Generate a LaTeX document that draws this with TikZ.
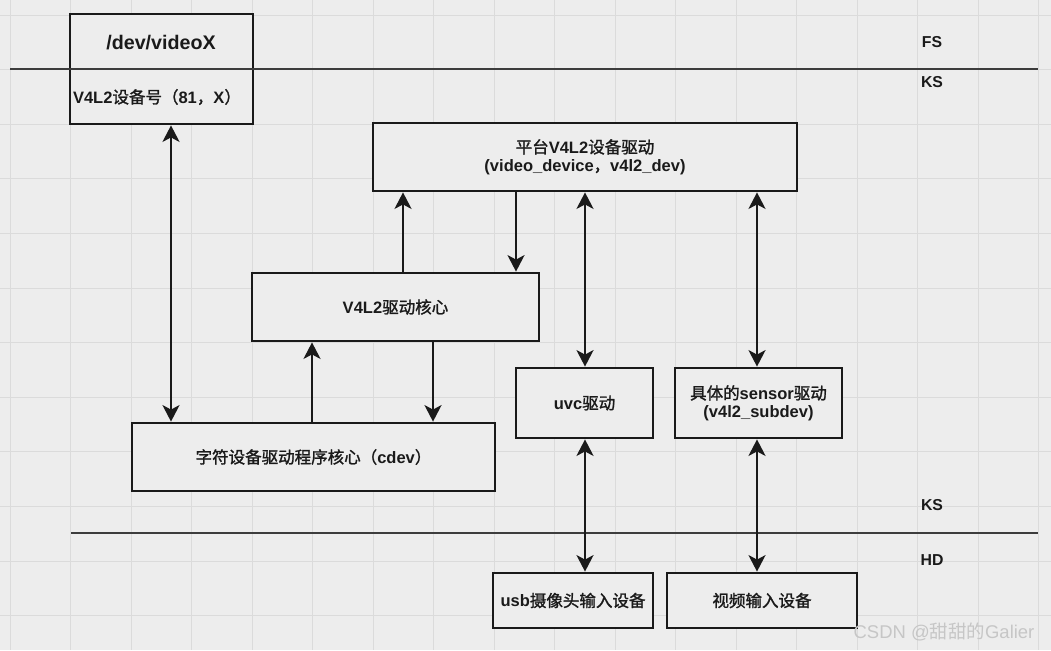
\documentclass[tikz,border=0pt]{standalone}
\usepackage{fontspec}
\setmainfont{Liberation Sans}
\newfontfamily\cjk{Noto Sans CJK SC}[AutoFakeBold=1.5]
\usetikzlibrary{arrows.meta}
\newcommand{\zh}[1]{{\cjk\bfseries #1}}
\definecolor{bg}{HTML}{EDEDED}
\definecolor{gridc}{HTML}{DBDBDB}
\definecolor{ink}{HTML}{1A1A1A}
\tikzset{
  blk/.style={draw=ink,line width=1.6pt,fill=bg,inner sep=2pt,align=center,text=ink,
    font=\bfseries\fontsize{9.4}{10.3}\selectfont},
  lbl/.style={text=ink,font=\bfseries\fontsize{9}{11}\selectfont},
  tip/.tip={Stealth[length=0.33cm,width=0.34cm,inset=0.09cm]},
  one/.style={draw=ink,line width=1.4pt,-tip},
  two/.style={draw=ink,line width=1.4pt,tip-tip},
  layer/.style={draw=ink!85,line width=1pt},
}
\begin{document}
\begin{tikzpicture}[x=0.02cm,y=-0.02cm]
\pgfmathsetmacro{\u}{0.02}
\fill[bg](0,0)rectangle(1051,650);
\useasboundingbox(0,0)rectangle(1051,650);
\foreach \i in {0,...,17}{\draw[gridc,line width=0.5pt](10+60.5*\i,0)--(10+60.5*\i,650);}
\foreach \j in {0,...,11}{\draw[gridc,line width=0.5pt](0,15+54.6*\j)--(1051,15+54.6*\j);}
\node[blk,minimum width=183*\u cm,minimum height=110*\u cm](vx)at(161.5,69){};
\draw[layer](10,69)--(1038,69);
\draw[layer](71,533)--(1038,533);
\node[text=ink,font=\bfseries\fontsize{11.2}{13}\selectfont](vxname)at(161,43){/dev/videoX};
\node[text=ink,font=\bfseries\fontsize{9.4}{11}\selectfont](vxnum)at(157,97){V4L2\zh{设备号（}81\zh{，}X\zh{）}};
\node[lbl](fs)at(932,42){FS};
\node[lbl](ksa)at(932,82){KS};
\node[lbl](ksb)at(932,505){KS};
\node[lbl](hd)at(932,560){HD};
\node[blk,minimum width=424*\u cm,minimum height=68*\u cm](pf)at(585,157){\zh{平台}V4L2\zh{设备驱动}\\(video\_device\zh{，}v4l2\_dev)};
\node[blk,minimum width=287*\u cm,minimum height=68*\u cm](core)at(395.5,307){V4L2\zh{驱动核心}};
\node[blk,minimum width=137*\u cm,minimum height=70*\u cm](uvc)at(584.5,403){uvc\zh{驱动}};
\node[blk,minimum width=167*\u cm,minimum height=70*\u cm](sen)at(758.5,403){\zh{具体的}sensor\zh{驱动}\\(v4l2\_subdev)};
\node[blk,minimum width=363*\u cm,minimum height=68*\u cm](cd)at(313.5,457){\zh{字符设备驱动程序核心（}cdev\zh{）}};
\node[blk,minimum width=160*\u cm,minimum height=55*\u cm](usb)at(573,600.5){usb\zh{摄像头输入设备}};
\node[blk,minimum width=190*\u cm,minimum height=55*\u cm](vin)at(762,600.5){\zh{视频输入设备}};
\coordinate(xa)at(171,0);
\coordinate(xb)at(403,0);
\coordinate(xc)at(516,0);
\coordinate(xd)at(585,0);
\coordinate(xe)at(757,0);
\coordinate(xf)at(312,0);
\coordinate(xg)at(433,0);
\draw[two](vx.south-|xa)--(cd.north-|xa);
\draw[one](core.north-|xb)--(pf.south-|xb);
\draw[one](pf.south-|xc)--(core.north-|xc);
\draw[two](pf.south-|xd)--(uvc.north-|xd);
\draw[two](pf.south-|xe)--(sen.north-|xe);
\draw[one](cd.north-|xf)--(core.south-|xf);
\draw[one](core.south-|xg)--(cd.north-|xg);
\draw[two](uvc.south-|xd)--(usb.north-|xd);
\draw[two](sen.south-|xe)--(vin.north-|xe);
\node[text=gray!45,font=\fontsize{10.5}{12}\selectfont](wm)at(944,632){CSDN @{\cjk 甜甜的}Galier};
\end{tikzpicture}
\end{document}
